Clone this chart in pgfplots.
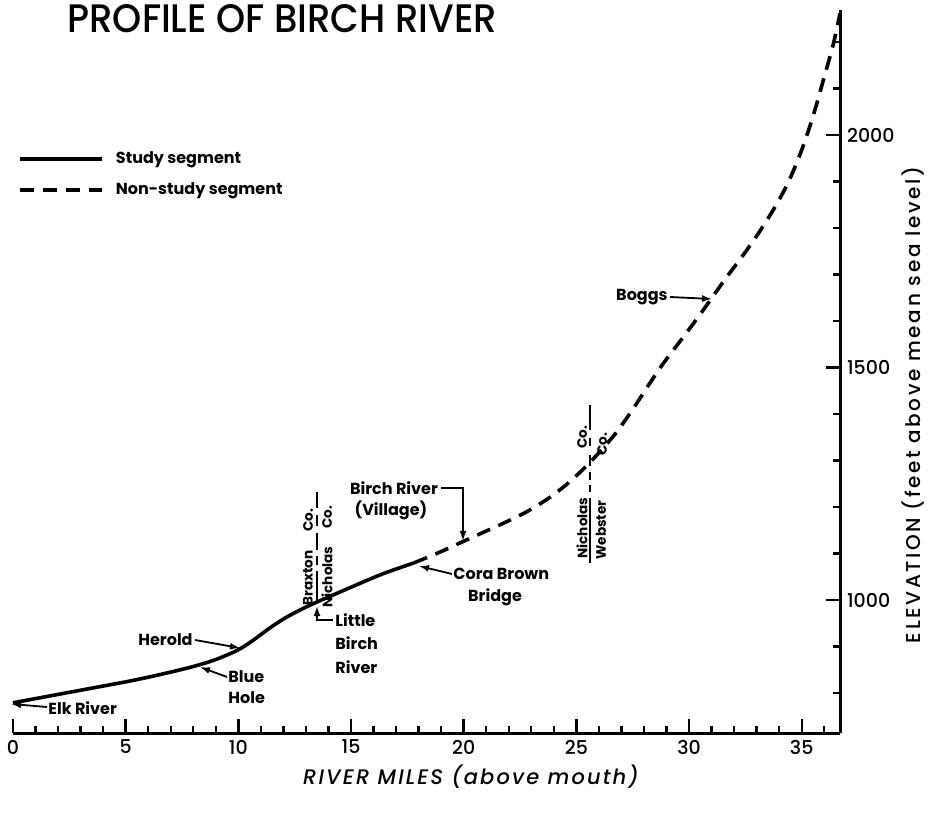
\documentclass[border=0pt]{standalone}
\usepackage{pgfplots}
\pgfplotsset{compat=1.18}
\usepackage{pgfplotstable}
\usepackage{fontspec}
\setmainfont{Poppins}
\newfontfamily\medfont{Poppins}[UprightFont={* Medium}, ItalicFont={* Medium Italic}, BoldFont={* SemiBold}]
\usepackage{graphicx}
\usetikzlibrary{arrows.meta}

\pgfplotstableread{
x y
0 779
1 788
2 797
3 806
4 815
5 824
6 834
7 845
8 857
9 872
10 893
10.7 915
11.4 940
12.1 962
12.8 980
13.5 996
14.5 1017
15.5 1038
16.5 1058
17.8 1080
}\studytable

\pgfplotstableread{
x y
17.8 1080
18.8 1100
19.8 1122
20.8 1144
21.8 1166
22.8 1190
23.8 1220
24.6 1250
25.4 1286
26.1 1322
26.8 1362
27.5 1410
28.2 1462
28.8 1505
29.5 1550
30.2 1595
30.9 1642
31.6 1690
32.3 1735
33.0 1783
33.7 1836
34.4 1898
35.0 1968
35.5 2040
36.0 2125
36.4 2195
36.7 2262
}\nonstudytable

\newcommand{\ann}{\bfseries\fontsize{8}{10}\selectfont}
\newcommand{\cnty}{\bfseries\fontsize{6.8}{8}\selectfont}

\begin{document}
\begin{tikzpicture}
\useasboundingbox (-6.5pt,-40pt) rectangle (461pt,366.5pt);
\begin{axis}[
  scale only axis, width=413.5pt, height=361.5pt,
  xmin=0, xmax=36.7, ymin=714, ymax=2269,
  axis x line=bottom, axis y line=right,
  axis line style={line width=1.5pt,-},
  x axis line style={-}, y axis line style={-},
  xtick={0,5,...,35}, minor xtick={1,2,...,36},
  ytick={1000,1500,2000}, minor ytick={800,900,...,2200},
  tick align=inside,
  major tick length=7pt, minor tick length=3.5pt,
  every tick/.style={line width=1.2pt,black},
  tick label style={font=\medfont\fontsize{9.5}{10}\selectfont},
  /pgf/number format/assume math mode=true,
  /pgf/number format/1000 sep={},
  clip=false,
  legend style={at={(rel axis cs:0.006,0.81)}, anchor=north west, draw=none, fill=none,
    font=\ann, row sep=4pt, inner sep=0pt},
  legend cell align=left,
  legend image code/.code={\draw[#1] (0pt,0pt) -- (41pt,0pt); \path (45pt,0pt);},
]
\addplot[line width=1.8pt, smooth, tension=0.5] table {\studytable};
\addlegendentry{Study segment}
\addplot[line width=1.8pt, smooth, tension=0.5, dash pattern=on 7pt off 4.5pt] table {\nonstudytable};
\addlegendentry{Non-study segment}
\end{axis}

\begin{scope}[x=0.5pt,y=-0.5pt,shift={(-6.5pt,366.5pt)}]
\tikzset{arr/.style={-{Latex[length=5pt,width=3.5pt]}, line width=0.9pt}}
% title
\node[anchor=west, inner sep=0] at (67,19) {\resizebox{215pt}{14pt}{\medfont PROFILE OF BIRCH RIVER}};
% axis labels
\node[inner sep=0] at (471,777) {\medfont\itshape\fontsize{10.5}{11}\selectfont\addfontfeatures{LetterSpace=10}RIVER MILES (above mouth)};
\node[inner sep=0, rotate=90] at (913,405) {\medfont\fontsize{10}{10}\selectfont\addfontfeatures{LetterSpace=13}ELEVATION (feet above mean sea level)};
% Elk River
\node[anchor=west, inner sep=0, font=\ann] at (48,708) {Elk River};
\draw[arr] (47,707) -- (11,704);
% Herold
\node[anchor=east, inner sep=0, font=\ann] at (193,640) {Herold};
\draw[arr] (195,640) -- (240,648);
% Blue Hole
\node[anchor=west, inner sep=0, font=\ann] at (228,677) {Blue};
\node[anchor=west, inner sep=0, font=\ann] at (228,698) {Hole};
\draw[arr] (227,677) -- (200,667);
% Little Birch River
\node[anchor=west, inner sep=0, font=\ann] at (335,620) {Little};
\node[anchor=west, inner sep=0, font=\ann] at (335,643) {Birch};
\node[anchor=west, inner sep=0, font=\ann] at (335,667) {River};
\draw[arr] (333,620) -- (317,620) -- (317,606);
% Cora Brown Bridge
\node[anchor=west, inner sep=0, font=\ann] at (453,574) {Cora Brown};
\node[inner sep=0, font=\ann] at (495,597) {Bridge};
\draw[arr] (452,574) -- (419,566);
% Birch River (Village)
\node[inner sep=0, font=\ann] at (394,488) {Birch River};
\node[inner sep=0, font=\ann] at (391,510) {(Village)};
\draw[arr] (441,488) -- (463,488) -- (463,541);
% Boggs
\node[anchor=east, inner sep=0, font=\ann] at (668,297) {Boggs};
\draw[arr] (670,297) -- (712,299);
% Braxton / Nicholas county line
\draw[line width=0.8pt] (317,492) -- (317,508) (317,515) -- (317,526) (317,533) -- (317,550) (317,556) -- (317,565) (317,571) -- (317,600);
\node[rotate=90, inner sep=0, font=\cnty] at (308,578) {Braxton};
\node[rotate=90, inner sep=0, font=\cnty] at (308,520) {Co.};
\node[rotate=90, inner sep=0, font=\cnty] at (327,517) {Co.};
\node[rotate=90, inner sep=0, font=\cnty] at (327,577) {Nicholas};
% Nicholas / Webster county line
\draw[line width=0.8pt] (590,405) -- (590,430) (590,438) -- (590,446) (590,455) -- (590,466) (590,472) -- (590,480) (590,485) -- (590,492) (590,498) -- (590,563);
\node[rotate=90, inner sep=0, font=\cnty] at (582,437) {Co.};
\node[rotate=90, inner sep=0, font=\cnty] at (602,444) {Co.};
\node[rotate=90, inner sep=0, font=\cnty] at (582,528) {Nicholas};
\node[rotate=90, inner sep=0, font=\cnty] at (601,530) {Webster};
\end{scope}
\end{tikzpicture}
\end{document}
